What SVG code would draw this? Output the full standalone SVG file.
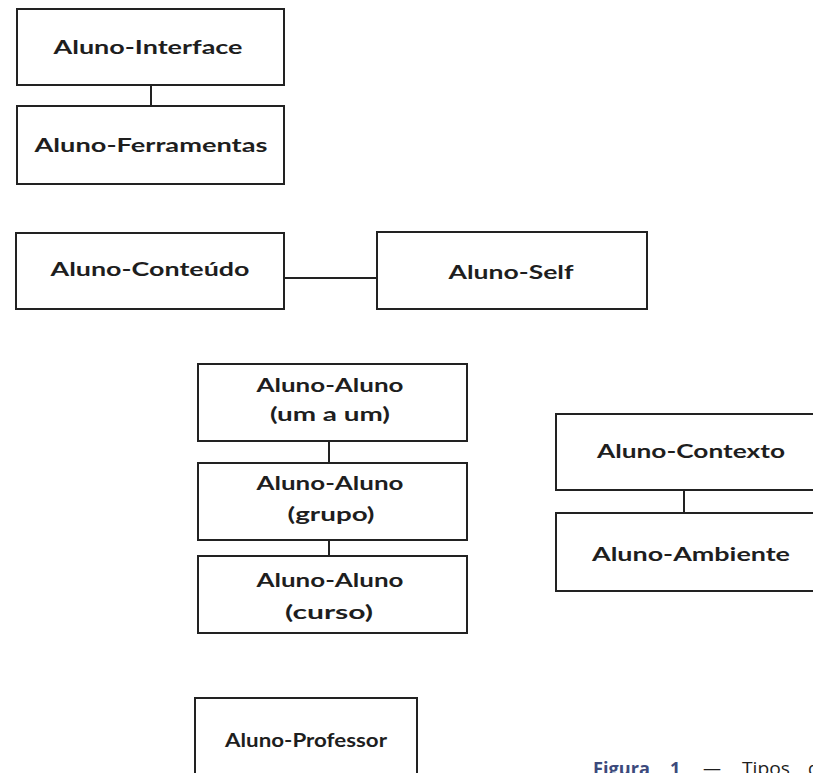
<svg xmlns="http://www.w3.org/2000/svg" width="813" height="773" viewBox="0 0 813 773">
  <style>
    .box { fill: #ffffff; stroke: #222222; stroke-width: 2; }
    .lbl { font-family: Lato, "Open Sans", "Liberation Sans", sans-serif; font-weight: 700; font-size: 18px; fill: #1e1e1e; text-anchor: middle; }
    .edge { stroke: #222222; stroke-width: 2; fill: none; }
    .cap { font-family: "Open Sans", "Liberation Sans", sans-serif; font-size: 18px; }
  </style>
  <rect width="813" height="773" fill="#ffffff"/>

  <g id="connectors">
    <line class="edge" x1="151" y1="85" x2="151" y2="106"/>
    <line class="edge" x1="284" y1="278" x2="377" y2="278"/>
    <line class="edge" x1="329" y1="441" x2="329" y2="463"/>
    <line class="edge" x1="329" y1="540" x2="329" y2="556"/>
    <line class="edge" x1="684" y1="490" x2="684" y2="513"/>
  </g>

  <g id="interface">
    <rect class="box" x="17" y="9" width="267" height="76"/>
    <text class="lbl" x="148" y="54" textLength="189" lengthAdjust="spacingAndGlyphs">Aluno-Interface</text>
  </g>
  <g id="ferramentas">
    <rect class="box" x="17" y="106" width="267" height="78"/>
    <text class="lbl" x="151" y="152" textLength="233" lengthAdjust="spacingAndGlyphs">Aluno-Ferramentas</text>
  </g>
  <g id="conteudo">
    <rect class="box" x="16" y="233" width="268" height="76"/>
    <text class="lbl" x="150" y="276" textLength="199" lengthAdjust="spacingAndGlyphs">Aluno-Conteúdo</text>
  </g>
  <g id="self">
    <rect class="box" x="377" y="232" width="270" height="77"/>
    <text class="lbl" x="511" y="279" textLength="125" lengthAdjust="spacingAndGlyphs">Aluno-Self</text>
  </g>
  <g id="aluno-um">
    <rect class="box" x="198" y="364" width="269" height="77"/>
    <text class="lbl" x="330" y="392" textLength="147" lengthAdjust="spacingAndGlyphs">Aluno-Aluno</text>
    <text class="lbl" x="330" y="421" textLength="120" lengthAdjust="spacingAndGlyphs">(um a um)</text>
  </g>
  <g id="aluno-grupo">
    <rect class="box" x="198" y="463" width="269" height="77"/>
    <text class="lbl" x="330" y="490" textLength="147" lengthAdjust="spacingAndGlyphs">Aluno-Aluno</text>
    <text class="lbl" x="331" y="521" textLength="87" lengthAdjust="spacingAndGlyphs">(grupo)</text>
  </g>
  <g id="aluno-curso">
    <rect class="box" x="198" y="556" width="269" height="77"/>
    <text class="lbl" x="330" y="587" textLength="147" lengthAdjust="spacingAndGlyphs">Aluno-Aluno</text>
    <text class="lbl" x="329" y="619" textLength="88" lengthAdjust="spacingAndGlyphs">(curso)</text>
  </g>
  <g id="contexto">
    <rect class="box" x="556" y="414" width="270" height="76"/>
    <text class="lbl" x="691" y="458" textLength="188" lengthAdjust="spacingAndGlyphs">Aluno-Contexto</text>
  </g>
  <g id="ambiente">
    <rect class="box" x="556" y="513" width="270" height="78"/>
    <text class="lbl" x="691" y="561" textLength="198" lengthAdjust="spacingAndGlyphs">Aluno-Ambiente</text>
  </g>
  <g id="professor">
    <rect class="box" x="195" y="698" width="222" height="90"/>
    <text class="lbl" x="306" y="747" textLength="162" lengthAdjust="spacingAndGlyphs">Aluno-Professor</text>
  </g>

  <!-- caption line, running off the bottom edge of the canvas -->
  <g id="caption" class="cap">
    <text x="593" y="775" fill="#3c4a7c" font-weight="700" textLength="57" lengthAdjust="spacingAndGlyphs">Figura</text>
    <text x="670" y="775" fill="#3c4a7c" font-weight="700">1</text>
    <text x="703" y="775" fill="#1e1e1e">—</text>
    <text x="742" y="775" fill="#1e1e1e" textLength="48" lengthAdjust="spacingAndGlyphs">Tipos</text>
    <text x="808" y="775" fill="#1e1e1e">d</text>
  </g>
</svg>
